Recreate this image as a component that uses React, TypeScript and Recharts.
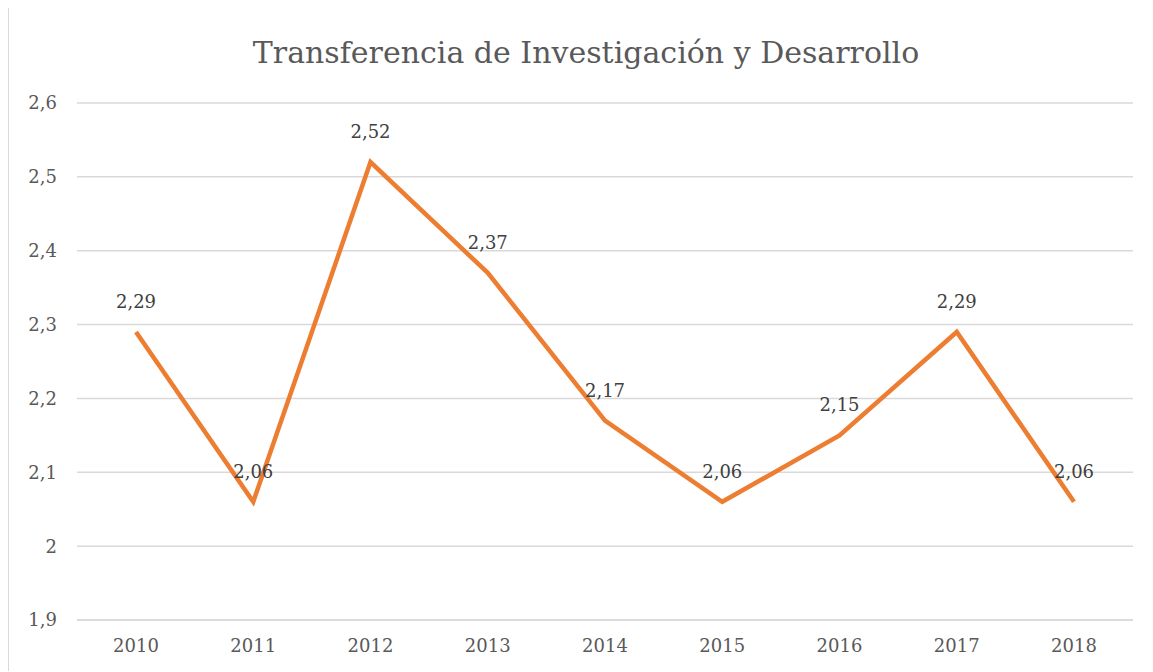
import { LineChart, Line, XAxis, YAxis, CartesianGrid, LabelList } from 'recharts';

const years = ['2010', '2011', '2012', '2013', '2014', '2015', '2016', '2017', '2018'];
const values = [2.29, 2.06, 2.52, 2.37, 2.17, 2.06, 2.15, 2.29, 2.06];
const yTicks = [1.9, 2, 2.1, 2.2, 2.3, 2.4, 2.5, 2.6];

const data = years.map((year, i) => ({ year, value: values[i] }));

const font = "'DejaVu Serif', serif";
const fmt = (v: number) => String(v).replace('.', ',');

export default function App() {
  return (
    <div
      style={{
        position: 'relative',
        width: 1145,
        height: 664,
        marginTop: -1,
        borderTop: '1px solid #d9d9d9',
        borderLeft: '1px solid #d9d9d9',
        boxSizing: 'border-box',
        background: '#fff',
        fontFamily: font,
      }}
    >
      <div
        style={{
          position: 'absolute',
          left: 0,
          width: 1154,
          top: 27,
          textAlign: 'center',
          fontSize: 30,
          color: '#595959',
          fontFamily: font,
        }}
      >
        Transferencia de Investigación y Desarrollo
      </div>
      <LineChart
        width={1144}
        height={663}
        data={data}
        margin={{ top: 95, right: 20, bottom: 21, left: 0 }}
      >
        <CartesianGrid vertical={false} stroke="#d9d9d9" strokeWidth={1.5} />
        <XAxis
          dataKey="year"
          padding={{ left: 59, right: 59 }}
          axisLine={{ stroke: '#d9d9d9', strokeWidth: 1.5 }}
          tickLine={false}
          tickSize={0}
          tickMargin={19}
          height={30}
          tick={{ fill: '#595959', fontSize: 18, fontFamily: font }}
        />
        <YAxis
          domain={[1.9, 2.6]}
          ticks={yTicks}
          tickFormatter={fmt}
          axisLine={false}
          tickLine={false}
          tickSize={0}
          tickMargin={20}
          width={68}
          interval={0}
          tick={{ fill: '#595959', fontSize: 18, fontFamily: font }}
        />
        <Line
          type="linear"
          dataKey="value"
          stroke="#ED7D31"
          strokeWidth={4.5}
          dot={false}
          isAnimationActive={false}
        >
          <LabelList
            dataKey="value"
            position="top"
            offset={24}
            formatter={(v: number) => fmt(v)}
            style={{ fill: '#404040', fontSize: 18, fontFamily: font }}
          />
        </Line>
      </LineChart>
    </div>
  );
}
